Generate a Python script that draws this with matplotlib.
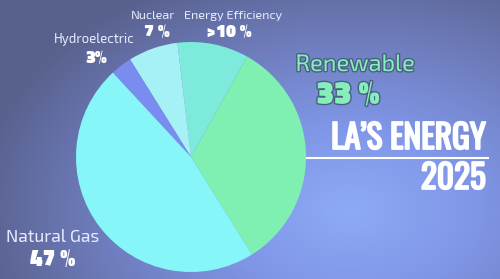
import numpy as np
import matplotlib
matplotlib.use("Agg")
import matplotlib.pyplot as plt
import matplotlib.patheffects as pe
from matplotlib.colors import LinearSegmentedColormap

# LA energy mix 2025 (percent)
sources = ["Renewable", "Energy Efficiency", "Nuclear", "Hydroelectric", "Natural Gas"]
shares = [33, 10, 7, 3, 47]
share_labels = ["33 %", ">10 %", "7 %", "3%", "47 %"]
colors = ["#7ff0b2", "#7eeadb", "#a6f1f6", "#7a8cf0", "#86f6f8"]

W, H = 500, 279
fig = plt.figure(figsize=(W / 100, H / 100), dpi=100)

# background glow
bg = fig.add_axes([0, 0, 1, 1])
yy, xx = np.mgrid[0:H, 0:W]
d = np.sqrt(((xx - 350) / 380.0) ** 2 + ((yy - 210) / 260.0) ** 2)
cmap = LinearSegmentedColormap.from_list("glow", ["#8eaaf6", "#7f96e6", "#6e7cbc", "#58608c"])
bg.imshow(np.clip(d, 0, 1), cmap=cmap, aspect="auto", extent=[0, W, H, 0])
bg.axis("off")

# pie
ax = fig.add_axes([76 / W, 7 / H, 230 / W, 230 / H])
ax.pie(shares, colors=colors, startangle=-58, counterclock=True,
       wedgeprops=dict(linewidth=0))
ax.set_xlim(-1, 1)
ax.set_ylim(-1, 1)
ax.axis("off")


def put(x, y, s, **kw):
    fig.text(x / W, 1 - y / H, s, ha="center", va="center", **kw)


label_font = ["Exo 2", "Exo", "Titillium Web", "Open Sans", "DejaVu Sans"]
pct_font = ["Titillium Web", "Exo 2", "DejaVu Sans"]
light = dict(color="#e6ecff", family=label_font, weight="light")
heavy = dict(color="white", family=pct_font, weight="black")

put(94, 39, "Hydroelectric", fontsize=9.5, **light)
put(96, 59, share_labels[3], fontsize=13, **heavy)
put(153, 16, "Nuclear", fontsize=9, **light)
put(157, 33, share_labels[2], fontsize=13, **heavy)
put(233, 16, "Energy Efficiency", fontsize=9, **light)
put(229, 33, share_labels[1], fontsize=13, **heavy)
put(53, 237, "Natural Gas", fontsize=12.5, **light)
put(53, 260, share_labels[4], fontsize=16.5, **heavy)

shadow = [pe.withStroke(linewidth=2, foreground="#4a6080")]
put(355, 65, "Renewable", fontsize=17, color="#86eebb", family=label_font,
    path_effects=shadow)
put(348, 95, share_labels[0], fontsize=23, color="#86eebb", family=pct_font,
    weight="black", path_effects=shadow)

title = dict(color="white", weight="bold", family=["Oswald", "DejaVu Sans"],
             path_effects=[pe.withStroke(linewidth=1.3, foreground="white")])
fig.text(486 / W, 1 - 138 / H, "LA’S ENERGY", ha="right", va="center",
         fontsize=24, **title)
fig.text(486 / W, 1 - 178 / H, "2025", ha="right", va="center",
         fontsize=24, **title)
bg.plot([307, 488], [158, 158], color="white", lw=1.5)
bg.set_xlim(0, W)
bg.set_ylim(H, 0)

fig.savefig("out.png", dpi=100)
